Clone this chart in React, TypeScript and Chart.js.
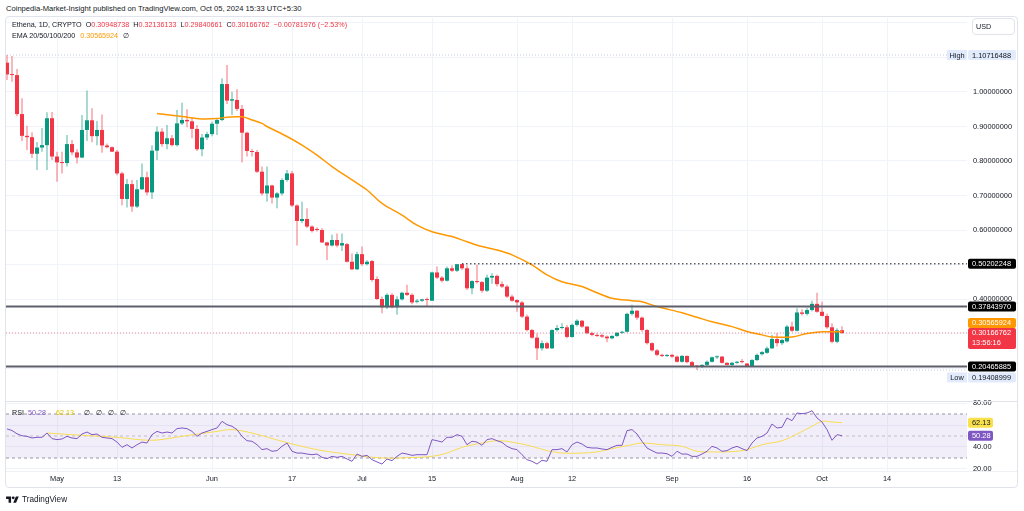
import React, { useEffect, useRef } from 'react';
import { Chart, registerables } from 'chart.js';

Chart.register(...registerables);

const FONT = "'Liberation Sans', Arial, Helvetica, sans-serif";
const TEXT = '#131722';
const UP = '#089981';
const DOWN = '#F23645';
const GRID = '#f0f3fa';

// ---- Daily candles (index 0 = Apr 21, 2024 ... index 167 = Oct 5, 2024) ----
const opens = [
  1.085, 1.051, 1.049, 0.936, 0.873, 0.869, 0.821, 0.839, 0.846, 0.924,
  0.813, 0.796, 0.794, 0.849, 0.825, 0.810, 0.890, 0.918, 0.872, 0.890,
  0.845, 0.840, 0.827, 0.764, 0.690, 0.733, 0.668, 0.718, 0.753, 0.709,
  0.830, 0.885, 0.849, 0.866, 0.846, 0.909, 0.919, 0.915, 0.893, 0.834,
  0.868, 0.878, 0.908, 0.919, 1.023, 0.975, 0.977, 0.951, 0.882, 0.829,
  0.826, 0.769, 0.706, 0.729, 0.694, 0.706, 0.745, 0.764, 0.671, 0.626,
  0.632, 0.610, 0.603, 0.600, 0.564, 0.555, 0.571, 0.555, 0.559, 0.508,
  0.486, 0.530, 0.501, 0.510, 0.458, 0.400, 0.376, 0.412, 0.376, 0.399,
  0.418, 0.412, 0.392, 0.395, 0.399, 0.395, 0.477, 0.462, 0.453, 0.489,
  0.482, 0.501, 0.489, 0.431, 0.452, 0.449, 0.424, 0.462, 0.467, 0.443,
  0.436, 0.407, 0.397, 0.390, 0.349, 0.310, 0.288, 0.257, 0.272, 0.257,
  0.310, 0.316, 0.318, 0.290, 0.325, 0.337, 0.320, 0.301, 0.296, 0.295,
  0.291, 0.286, 0.293, 0.302, 0.305, 0.357, 0.366, 0.346, 0.310, 0.272,
  0.251, 0.238, 0.235, 0.238, 0.233, 0.218, 0.235, 0.217, 0.206, 0.204,
  0.209, 0.218, 0.231, 0.233, 0.215, 0.209, 0.215, 0.218, 0.213, 0.206,
  0.223, 0.240, 0.244, 0.257, 0.284, 0.272, 0.277, 0.320, 0.308, 0.361,
  0.357, 0.368, 0.386, 0.363, 0.351, 0.318, 0.276, 0.30948738,
];
const highs = [
  1.10716488, 1.104, 1.067, 0.982, 0.902, 0.883, 0.855, 0.896, 0.941, 0.942,
  0.827, 0.827, 0.875, 0.861, 0.834, 0.933, 1.004, 0.953, 0.916, 0.935,
  0.851, 0.842, 0.832, 0.769, 0.748, 0.745, 0.745, 0.793, 0.769, 0.846,
  0.900, 0.895, 0.904, 0.875, 0.948, 0.969, 0.950, 0.926, 0.904, 0.878,
  0.885, 0.914, 0.924, 1.040, 1.078, 1.001, 1.008, 0.962, 0.885, 0.834,
  0.832, 0.784, 0.784, 0.731, 0.710, 0.750, 0.774, 0.771, 0.675, 0.682,
  0.663, 0.614, 0.608, 0.605, 0.566, 0.586, 0.590, 0.590, 0.562, 0.532,
  0.537, 0.552, 0.512, 0.513, 0.465, 0.407, 0.417, 0.417, 0.408, 0.421,
  0.441, 0.417, 0.400, 0.401, 0.404, 0.479, 0.494, 0.467, 0.494, 0.498,
  0.500, 0.50202248, 0.498, 0.454, 0.499, 0.452, 0.470, 0.475, 0.470, 0.451,
  0.441, 0.412, 0.399, 0.394, 0.355, 0.313, 0.300, 0.280, 0.276, 0.312,
  0.325, 0.330, 0.325, 0.328, 0.341, 0.339, 0.322, 0.305, 0.300, 0.299,
  0.294, 0.295, 0.304, 0.308, 0.360, 0.383, 0.368, 0.349, 0.313, 0.275,
  0.255, 0.241, 0.240, 0.241, 0.236, 0.238, 0.236, 0.220, 0.209, 0.211,
  0.222, 0.233, 0.236, 0.235, 0.217, 0.218, 0.220, 0.226, 0.214, 0.226,
  0.242, 0.249, 0.262, 0.296, 0.301, 0.285, 0.325, 0.334, 0.373, 0.370,
  0.374, 0.395, 0.418, 0.392, 0.358, 0.330, 0.315, 0.32136133,
];
const lows = [
  1.035, 1.030, 0.930, 0.858, 0.832, 0.809, 0.774, 0.827, 0.774, 0.803,
  0.740, 0.764, 0.784, 0.817, 0.793, 0.808, 0.858, 0.854, 0.846, 0.824,
  0.837, 0.826, 0.759, 0.672, 0.665, 0.653, 0.664, 0.716, 0.701, 0.690,
  0.803, 0.841, 0.834, 0.842, 0.842, 0.904, 0.898, 0.866, 0.829, 0.814,
  0.861, 0.872, 0.875, 0.915, 0.965, 0.933, 0.945, 0.796, 0.813, 0.813,
  0.765, 0.700, 0.682, 0.677, 0.663, 0.700, 0.740, 0.667, 0.555, 0.620,
  0.606, 0.593, 0.596, 0.562, 0.513, 0.552, 0.550, 0.539, 0.506, 0.484,
  0.484, 0.496, 0.497, 0.450, 0.397, 0.359, 0.371, 0.373, 0.354, 0.396,
  0.409, 0.385, 0.388, 0.391, 0.378, 0.394, 0.458, 0.448, 0.451, 0.478,
  0.478, 0.484, 0.426, 0.414, 0.445, 0.418, 0.420, 0.444, 0.436, 0.432,
  0.403, 0.392, 0.363, 0.345, 0.306, 0.285, 0.223, 0.250, 0.255, 0.255,
  0.305, 0.312, 0.286, 0.288, 0.320, 0.317, 0.298, 0.292, 0.290, 0.287,
  0.275, 0.283, 0.290, 0.299, 0.303, 0.352, 0.340, 0.305, 0.268, 0.248,
  0.234, 0.232, 0.232, 0.230, 0.216, 0.216, 0.214, 0.204, 0.19408999, 0.200,
  0.206, 0.216, 0.226, 0.213, 0.207, 0.206, 0.212, 0.214, 0.204, 0.204,
  0.220, 0.236, 0.241, 0.255, 0.262, 0.267, 0.274, 0.304, 0.306, 0.352,
  0.352, 0.364, 0.360, 0.350, 0.314, 0.272, 0.272, 0.29840661,
];
const closes = [
  1.051, 1.049, 0.936, 0.873, 0.869, 0.821, 0.839, 0.846, 0.924, 0.813,
  0.796, 0.794, 0.849, 0.825, 0.810, 0.890, 0.918, 0.872, 0.890, 0.845,
  0.840, 0.827, 0.764, 0.690, 0.733, 0.668, 0.718, 0.753, 0.709, 0.830,
  0.885, 0.849, 0.866, 0.846, 0.909, 0.919, 0.915, 0.893, 0.834, 0.868,
  0.878, 0.908, 0.919, 1.023, 0.975, 0.979, 0.951, 0.882, 0.829, 0.826,
  0.769, 0.706, 0.729, 0.694, 0.706, 0.745, 0.764, 0.671, 0.626, 0.632,
  0.610, 0.597, 0.600, 0.564, 0.555, 0.571, 0.555, 0.562, 0.508, 0.486,
  0.530, 0.501, 0.508, 0.455, 0.400, 0.376, 0.412, 0.376, 0.399, 0.418,
  0.412, 0.390, 0.395, 0.399, 0.397, 0.477, 0.462, 0.453, 0.489, 0.482,
  0.501, 0.489, 0.431, 0.452, 0.449, 0.424, 0.462, 0.467, 0.443, 0.436,
  0.407, 0.395, 0.390, 0.349, 0.310, 0.288, 0.257, 0.272, 0.257, 0.310,
  0.316, 0.318, 0.290, 0.325, 0.337, 0.320, 0.301, 0.296, 0.293, 0.291,
  0.286, 0.293, 0.302, 0.305, 0.357, 0.366, 0.346, 0.310, 0.272, 0.251,
  0.238, 0.235, 0.238, 0.233, 0.218, 0.235, 0.217, 0.206, 0.204, 0.209,
  0.218, 0.231, 0.233, 0.215, 0.209, 0.215, 0.218, 0.217, 0.206, 0.223,
  0.238, 0.246, 0.257, 0.284, 0.272, 0.281, 0.320, 0.308, 0.361, 0.357,
  0.368, 0.386, 0.363, 0.351, 0.318, 0.276, 0.3095, 0.30166762,
];

// ---- EMA 50 (read at sample days) ----
const emaDays = [30, 35, 39, 42, 44, 47, 49, 51, 52, 56, 59, 62, 65, 69, 72, 75, 79, 82, 85, 89, 92, 95, 98, 101, 105, 108, 111, 115, 118, 121, 125, 127, 130, 135, 138, 141, 145, 148, 151, 153, 157, 160, 163, 166, 167];
const emaValues = [0.938, 0.929, 0.922, 0.923, 0.927, 0.928, 0.919, 0.909, 0.900, 0.871, 0.846, 0.817, 0.784, 0.745, 0.716, 0.677, 0.643, 0.614, 0.595, 0.581, 0.566, 0.552, 0.542, 0.528, 0.499, 0.470, 0.450, 0.436, 0.418, 0.402, 0.395, 0.392, 0.378, 0.360, 0.347, 0.334, 0.320, 0.306, 0.296, 0.290, 0.290, 0.300, 0.305, 0.305, 0.30565924];

// ---- RSI (14) daily values ----
const rsiValues = [
  56.4, 55.0, 52.0, 50.2, 49.7, 48.2, 48.8, 48.8, 52.7, 47.6,
  46.7, 47.3, 49.7, 48.2, 47.6, 51.8, 53.6, 51.2, 51.8, 48.8,
  48.2, 47.6, 44.5, 39.7, 42.1, 39.1, 42.1, 44.5, 43.6, 51.2,
  54.2, 52.7, 53.6, 52.7, 56.7, 57.3, 56.7, 54.2, 49.7, 52.7,
  54.2, 55.8, 57.3, 63.3, 60.3, 58.8, 55.8, 49.7, 45.7, 45.2,
  42.1, 37.6, 38.5, 36.1, 36.7, 40.6, 43.6, 36.1, 34.5, 34.5,
  33.6, 33.0, 33.6, 30.6, 29.4, 31.5, 30.6, 31.5, 29.1, 27.0,
  33.6, 31.5, 32.4, 28.5, 26.4, 24.5, 29.1, 27.6, 31.5, 34.5,
  33.6, 32.4, 33.0, 33.0, 33.0, 46.7, 45.7, 44.5, 48.8, 48.8,
  51.2, 49.7, 42.1, 45.2, 44.5, 41.5, 46.7, 47.6, 45.7, 44.2,
  40.6, 38.5, 37.6, 33.0, 28.5, 27.0, 24.5, 27.9, 27.0, 37.6,
  37.6, 38.5, 35.5, 42.1, 44.5, 42.7, 39.7, 39.1, 39.1, 38.2,
  37.6, 39.7, 41.5, 41.5, 54.9, 55.8, 51.8, 45.2, 39.1, 36.7,
  34.5, 34.5, 33.9, 31.5, 36.1, 33.6, 33.6, 31.5, 31.5, 33.6,
  36.1, 40.6, 39.1, 36.1, 36.7, 39.1, 40.6, 38.5, 36.7, 43.6,
  48.2, 49.7, 52.7, 60.9, 57.3, 57.9, 66.4, 63.9, 70.9, 70.3,
  70.9, 73.0, 66.4, 62.7, 55.8, 46.1, 51.2, 50.28,
];
// ---- RSI moving average (read at sample days) ----
const rsiMaDays = [8, 15, 22, 29, 35, 42, 45, 49, 55, 62, 69, 75, 82, 85, 88, 91, 95, 98, 101, 105, 108, 111, 115, 118, 121, 125, 127, 131, 135, 138, 141, 145, 148, 151, 155, 158, 161, 163, 165, 167];
const rsiMaValues = [52.7, 50.6, 48.8, 46.1, 49.7, 54.2, 55.8, 52.7, 45.2, 37.6, 33.0, 30.0, 30.6, 31.5, 34.5, 39.7, 43.6, 45.7, 44.5, 40.6, 36.7, 34.5, 34.5, 35.5, 38.5, 42.1, 43.6, 42.1, 40.6, 36.1, 35.5, 35.8, 37.6, 42.1, 45.7, 51.8, 58.8, 63.3, 62.7, 62.13];

// ---- Axis ticks ----
const tickDays = [10, 22, 41, 57, 71, 85, 102, 113, 133, 148, 163, 176];
const tickLabels = ['May', '13', 'Jun', '17', 'Jul', '15', 'Aug', '12', 'Sep', '16', 'Oct', '14'];
const priceTicks = [0.2, 0.3, 0.4, 0.5, 0.6, 0.7, 0.8, 0.9, 1.0, 1.1, 1.2];
const priceTicksShown = [0.4, 0.6, 0.7, 0.8, 0.9, 1.0];
const rsiTicks = [20, 40, 60, 80];

// ---- Levels ----
const supportLevels = [0.3784397, 0.20465885];
const resistanceLevel = 0.50202248;
const resistanceStartDay = 91;
const periodHigh = 1.10716488;
const periodHighDay = 0;
const periodLow = 0.19408999;
const periodLowDay = 138;
const emaLast = 0.30565924;
const rsiLast = 50.28;
const rsiMaLast = 62.13;
const countdown = '13:56:16';

const xMin = -0.2;
const xMax = 192;
const priceMin = 0.10725;
const priceMax = 1.21449;
const rsiMin = 18.18;
const rsiMax = 80.91;

const last = closes.length - 1;
const fmt8 = (v: number) => v.toFixed(8);

function drawTags(chart: any, tags: any[], width: number, fontSize: number) {
  const { ctx, chartArea, scales } = chart;
  const ys = scales.y;
  const x0 = chartArea.right + 1;
  const lineH = 10;
  const placed: any[] = [];
  ctx.save();
  ctx.font = `${fontSize}px ${FONT}`;
  ctx.textBaseline = 'middle';
  for (const t of tags) {
    const c = ys.getPixelForValue(t.value);
    const h = lineH * t.lines.length + (t.lines.length > 1 ? 1 : 0);
    let top = c - lineH / 2;
    let bottom = top + h;
    for (const p of placed) {
      if (top < p.bottom && bottom > p.top) {
        if (c < (p.top + p.bottom) / 2) {
          bottom = p.top;
          top = bottom - h;
        } else {
          top = p.bottom + 1;
          bottom = top + h;
        }
      }
    }
    placed.push({ top, bottom });
    ctx.fillStyle = t.bg;
    ctx.beginPath();
    if (ctx.roundRect) ctx.roundRect(x0, top, width, h, 2);
    else ctx.rect(x0, top, width, h);
    ctx.fill();
    ctx.fillStyle = t.fg;
    ctx.textAlign = 'left';
    t.lines.forEach((s: string, k: number) => ctx.fillText(s, x0 + 4, top + lineH / 2 + k * lineH + 0.5));
    if (t.side) {
      ctx.fillStyle = t.bg;
      ctx.fillRect(chartArea.right - 20, top, 20, h);
      ctx.fillStyle = t.fg;
      ctx.textAlign = 'center';
      ctx.fillText(t.side, chartArea.right - 10, top + lineH / 2 + 0.5);
    }
  }
  ctx.restore();
}

const hline = (y: number, a: number = xMin, b: number = xMax) => [{ x: a, y }, { x: b, y }];

function MainChart() {
  const ref = useRef<HTMLCanvasElement>(null);
  useEffect(() => {
    const bodies = opens.map((o, i) => ({ x: i, y: [o, closes[i]] }));
    const wicks = opens.map((o, i) => ({ x: i, y: [lows[i], highs[i]] }));
    const colors = opens.map((o, i) => (closes[i] >= o ? UP : DOWN));
    const wickColors = opens.map((o, i) => (closes[i] >= o ? 'rgba(8,153,129,0.7)' : 'rgba(242,54,69,0.7)'));
    const lastColor = closes[last] >= opens[last] ? UP : DOWN;
    const tags = [
      { value: closes[last], lines: [fmt8(closes[last]), countdown], bg: lastColor, fg: '#ffffff' },
      { value: supportLevels[0], lines: [fmt8(supportLevels[0])], bg: '#000000', fg: '#ffffff' },
      { value: resistanceLevel, lines: [fmt8(resistanceLevel)], bg: '#000000', fg: '#ffffff' },
      { value: supportLevels[1], lines: [fmt8(supportLevels[1])], bg: '#000000', fg: '#ffffff' },
      { value: emaLast, lines: [fmt8(emaLast)], bg: '#FF9800', fg: '#ffffff' },
      { value: periodHigh, lines: [fmt8(periodHigh)], bg: '#e1ebfb', fg: TEXT, side: 'High' },
      { value: periodLow, lines: [fmt8(periodLow)], bg: '#e1ebfb', fg: TEXT, side: 'Low' },
    ];
    const lineDs = (data: any, color: string, width: number, dash: number[], order: number) => ({
      type: 'line', data, borderColor: color, borderWidth: width, borderDash: dash,
      pointRadius: 0, fill: false, order, clip: 0,
    });
    const chart = new Chart(ref.current as any, {
      type: 'bar',
      data: {
        datasets: [
          lineDs(hline(periodHigh, periodHighDay), 'rgba(120,140,190,0.45)', 1, [1, 2], 0),
          lineDs(hline(periodLow, periodLowDay), 'rgba(120,140,190,0.45)', 1, [1, 2], 0),
          lineDs(hline(closes[last]), 'rgba(242,54,69,0.55)', 1, [1, 2], 0),
          lineDs(hline(resistanceLevel, resistanceStartDay), '#131722', 1, [1.5, 2.5], 0),
          lineDs(hline(supportLevels[0]), '#5d606b', 2, [], 0),
          lineDs(hline(supportLevels[1]), '#5d606b', 2, [], 0),
          {
            type: 'line', data: emaDays.map((d, k) => ({ x: d, y: emaValues[k] })),
            borderColor: '#FF9800', borderWidth: 1.5, pointRadius: 0, tension: 0.35, fill: false, order: 1, clip: 0,
          },
          {
            type: 'bar', data: bodies, backgroundColor: colors, barThickness: 4, minBarLength: 1,
            grouped: false, inflateAmount: 0, order: 2, clip: 0,
          },
          {
            type: 'bar', data: wicks, backgroundColor: wickColors, barThickness: 1,
            grouped: false, inflateAmount: 0, order: 3, clip: 0,
          },
        ] as any,
      },
      options: {
        responsive: false,
        animation: false,
        devicePixelRatio: 1,
        layout: { padding: { top: 18, left: 6, right: 0, bottom: 12 } },
        plugins: { legend: { display: false }, tooltip: { enabled: false } },
        scales: {
          x: {
            type: 'linear', min: xMin, max: xMax, offset: false,
            afterBuildTicks: (s: any) => { s.ticks = tickDays.map((v) => ({ value: v })); },
            afterFit: (s: any) => { s.height = 0; },
            ticks: { display: false },
            grid: { color: GRID, drawTicks: false, offset: false },
            border: { display: false },
          },
          y: {
            type: 'linear', position: 'right', min: priceMin, max: priceMax, beginAtZero: false,
            afterBuildTicks: (s: any) => { s.ticks = priceTicks.map((v) => ({ value: v })); },
            afterFit: (s: any) => { s.width = 57; },
            ticks: {
              padding: 6, color: TEXT, font: { family: FONT, size: 7.4 },
              callback: (v: any) => (priceTicksShown.some((t) => Math.abs(t - v) < 1e-9) ? Number(v).toFixed(8) : ''),
            },
            grid: { color: GRID, drawTicks: false },
            border: { display: false },
          },
        },
      } as any,
      plugins: [{ id: 'tags', afterDraw: (c: any) => drawTags(c, tags, 48, 7.4) }],
    });
    return () => chart.destroy();
  }, []);
  return <canvas ref={ref} width={1024} height={412} style={{ position: 'absolute', left: 0, top: 0 }} />;
}

function RsiChart() {
  const ref = useRef<HTMLCanvasElement>(null);
  useEffect(() => {
    const tags = [
      { value: rsiMaLast, lines: [rsiMaLast.toFixed(2)], bg: '#F9E14B', fg: TEXT },
      { value: rsiLast, lines: [rsiLast.toFixed(2)], bg: '#7E57C2', fg: '#ffffff' },
    ];
    const chart = new Chart(ref.current as any, {
      type: 'line',
      data: {
        datasets: [
          {
            data: rsiValues.map((v, i) => ({ x: i, y: v })), borderColor: '#7E57C2', borderWidth: 1,
            pointRadius: 0, fill: false, order: 0, clip: 0,
          },
          {
            data: rsiMaDays.map((d, k) => ({ x: d, y: rsiMaValues[k] })), borderColor: '#F7DC55', borderWidth: 1,
            pointRadius: 0, tension: 0.35, fill: false, order: 1, clip: 0,
          },
          {
            data: hline(70), borderColor: '#9598a1', borderWidth: 1, borderDash: [3, 3],
            pointRadius: 0, fill: false, order: 3, clip: 0,
          },
          {
            data: hline(30), borderColor: '#9598a1', borderWidth: 1, borderDash: [3, 3],
            pointRadius: 0, fill: '-1', backgroundColor: 'rgba(126,87,194,0.1)', order: 4, clip: 0,
          },
          {
            data: hline(50), borderColor: 'rgba(149,152,161,0.55)', borderWidth: 1, borderDash: [3, 3],
            pointRadius: 0, fill: false, order: 2, clip: 0,
          },
        ] as any,
      },
      options: {
        responsive: false,
        animation: false,
        devicePixelRatio: 1,
        layout: { padding: { top: 22, left: 6, right: 0, bottom: 0 } },
        plugins: { legend: { display: false }, tooltip: { enabled: false } },
        scales: {
          x: {
            type: 'linear', min: xMin, max: xMax, offset: false,
            afterBuildTicks: (s: any) => { s.ticks = tickDays.map((v) => ({ value: v })); },
            afterFit: (s: any) => { s.height = 17; },
            ticks: {
              autoSkip: false, maxRotation: 0, padding: 4, color: TEXT, font: { family: FONT, size: 7.4 },
              callback: (v: any) => { const k = tickDays.indexOf(Number(v)); return k >= 0 ? tickLabels[k] : ''; },
            },
            grid: { color: GRID, drawTicks: false, offset: false },
            border: { display: false },
          },
          y: {
            type: 'linear', position: 'right', min: rsiMin, max: rsiMax,
            afterBuildTicks: (s: any) => { s.ticks = rsiTicks.map((v) => ({ value: v })); },
            afterFit: (s: any) => { s.width = 57; },
            ticks: {
              padding: 6, color: TEXT, font: { family: FONT, size: 7.4 },
              callback: (v: any) => Number(v).toFixed(2),
            },
            grid: { color: GRID, drawTicks: false },
            border: { display: false },
          },
        },
      } as any,
      plugins: [{ id: 'rsiTags', afterDraw: (c: any) => drawTags(c, tags, 25, 7.4) }],
    });
    return () => chart.destroy();
  }, []);
  return <canvas ref={ref} width={1024} height={108} style={{ position: 'absolute', left: 0, top: 380 }} />;
}

const txt: React.CSSProperties = { position: 'absolute', fontFamily: FONT, fontSize: 7.2, lineHeight: '10px', color: TEXT, whiteSpace: 'nowrap' };

export default function App() {
  const chg = closes[last] - opens[last];
  const chgPct = (chg / opens[last]) * 100;
  const red = { color: DOWN };
  return (
    <div style={{ position: 'absolute', left: 0, top: 0, width: 1024, height: 511, background: '#ffffff', overflow: 'hidden' }}>
      <div style={{ ...txt, left: 6, top: 4, fontSize: 7.6 }}>
        Coinpedia-Market-Insight published on TradingView.com, Oct 05, 2024 15:33 UTC+5:30
      </div>
      <div style={{ position: 'absolute', left: 5, top: 16, width: 1013, height: 472, border: '1px solid #e0e3eb', borderRadius: 4, boxSizing: 'border-box' }} />
      <MainChart />
      <RsiChart />
      <div style={{ position: 'absolute', left: 6, top: 401, width: 1011, height: 1, background: '#e0e3eb' }} />
      <div style={{ position: 'absolute', left: 6, top: 471, width: 1011, height: 1, background: '#eef0f4' }} />
      <div style={{ ...txt, left: 12, top: 20 }}>
        <span>Ethena, 1D, CRYPTO</span>
        <span style={{ marginLeft: 4 }}>O<span style={red}>{fmt8(opens[last])}</span></span>
        <span style={{ marginLeft: 4 }}>H<span style={red}>{fmt8(highs[last])}</span></span>
        <span style={{ marginLeft: 4 }}>L<span style={red}>{fmt8(lows[last])}</span></span>
        <span style={{ marginLeft: 4 }}>C<span style={red}>{fmt8(closes[last])}</span></span>
        <span style={{ marginLeft: 4, ...red }}>{'\u2212' + Math.abs(chg).toFixed(8)} ({'\u2212' + Math.abs(chgPct).toFixed(2)}%)</span>
      </div>
      <div style={{ ...txt, left: 12, top: 31 }}>
        <span>EMA 20/50/100/200</span>
        <span style={{ marginLeft: 5, color: '#FF9800' }}>{fmt8(emaLast)}</span>
        <span style={{ marginLeft: 5 }}>∅</span>
      </div>
      <div style={{ position: 'absolute', left: 972, top: 18, width: 43, height: 17, border: '1px solid #e0e3eb', borderRadius: 4, boxSizing: 'border-box' }}>
        <div style={{ ...txt, left: 3, top: 3 }}>USD</div>
      </div>
      <div style={{ ...txt, left: 12, top: 408 }}>
        <span>RSI</span>
        <span style={{ marginLeft: 4, color: '#7E57C2' }}>{rsiLast.toFixed(2)}</span>
        <span style={{ marginLeft: 10, color: '#E2C400' }}>{rsiMaLast.toFixed(2)}</span>
        <span style={{ marginLeft: 10 }}>∅</span>
        <span style={{ marginLeft: 6 }}>∅</span>
        <span style={{ marginLeft: 6 }}>∅</span>
        <span style={{ marginLeft: 6 }}>∅</span>
      </div>
      <svg width="13" height="10" viewBox="0 0 36 28" style={{ position: 'absolute', left: 6, top: 495 }}>
        <path d="M14 22H7V11H0V4h14v18zM28 22h-8l7.5-18h8L28 22z" fill={TEXT} />
        <circle cx="20" cy="8" r="4" fill={TEXT} />
      </svg>
      <div style={{ ...txt, left: 22, top: 495, fontSize: 8.2 }}>TradingView</div>
    </div>
  );
}
